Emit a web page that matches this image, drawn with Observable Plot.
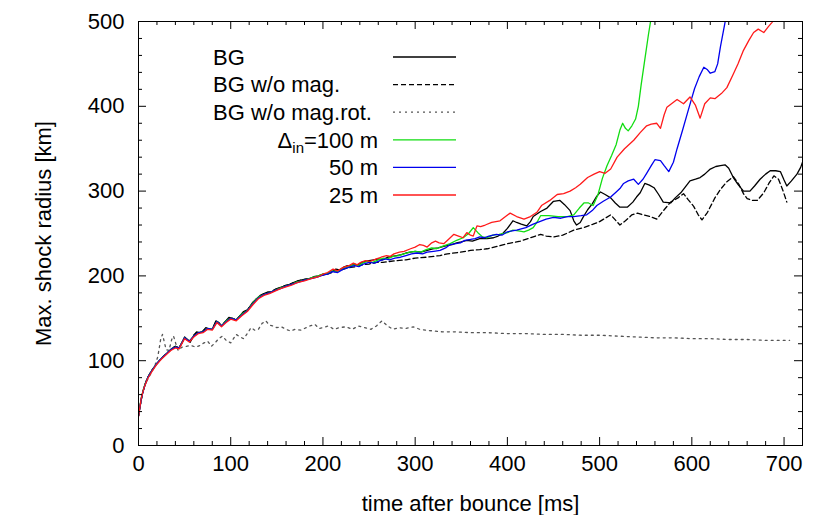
<!DOCTYPE html>
<html><head><meta charset="utf-8">
<script src="https://cdn.jsdelivr.net/npm/d3@7"></script>
<script src="https://cdn.jsdelivr.net/npm/@observablehq/plot@0.6"></script>
<style>body{margin:0;background:#fff}#chart{width:830px;height:515px}</style>
</head><body><div id="chart"></div>
<script>
// ---- data: [time after bounce (ms), max. shock radius (km)] ----
const bg = [[0,35],[2,48],[4,60],[6,68],[8,75],[10,80],[13,86],[16,91],[19,95],[22,99],[26,104],[30,108],[34,112],[37,115],[40,117],[44,115],[47,121],[50,128],[53,125],[56,122],[60,130],[63,134],[66,133],[69,134],[73,139],[77,137],[80,137],[84,147],[87,145],[90,141],[94,146],[98,151],[102,150],[106,148],[110,153],[114,158],[118,160],[121,164],[124,169],[128,173],[132,177],[136,179],[140,181],[144,181],[148,184],[152,186],[156,187],[160,189],[164,190],[168,192],[172,194],[176,195],[180,196],[186,197],[190,199],[195,200],[200,202],[205,203],[210,205],[214,208],[218,207],[222,210],[226,212],[230,212],[234,214],[238,213],[242,216],[246,217],[250,218],[255,219],[260,220],[265,219],[270,222],[275,223],[280,224],[285,225],[290,227],[295,228],[300,229],[306,228],[313,230],[319,232],[325,233],[332,235],[340,237],[345,239],[350,240],[356,242],[362,241],[370,244],[378,244],[385,245],[390,247],[395,250],[400,256],[406,265],[410,263],[415,261],[421,259],[425,264],[428,270],[436,276],[443,280],[450,288],[457,289],[462,284],[468,277],[472,265],[475,260],[479,263],[482,269],[487,278],[492,285],[497,294],[501,299],[506,296],[512,292],[517,286],[522,281],[530,281],[536,287],[540,293],[544,298],[549,309],[554,307],[559,304],[564,296],[569,287],[577,286],[582,292],[588,298],[593,305],[598,312],[604,314],[609,316],[614,320],[620,326],[626,329],[631,330],[636,331],[640,327],[645,316],[650,308],[656,300],[663,300],[668,306],[674,314],[680,320],[685,324],[691,324],[696,323],[700,313],[703,306],[708,312],[714,320],[718,328],[720,334]];

const bgNoMag = [[0,35],[2,48],[4,60],[6,68],[8,75],[10,80],[13,86],[16,91],[19,95],[22,99],[26,104],[30,108],[34,112],[37,115],[40,117],[44,115],[47,121],[50,127],[53,125],[56,122],[60,130],[63,133],[66,133],[69,134],[73,138],[77,137],[80,137],[84,146],[87,145],[90,141],[94,146],[98,150],[102,150],[106,148],[110,153],[114,157],[118,160],[121,164],[124,168],[128,173],[132,176],[136,179],[140,180],[144,181],[148,184],[152,185],[156,187],[160,189],[164,190],[168,192],[172,193],[176,195],[180,196],[186,197],[190,198],[195,200],[200,201],[205,202],[210,204],[215,206],[220,207],[225,209],[230,210],[236,211],[242,213],[250,214],[258,216],[265,216],[272,217],[280,218],[290,219],[300,221],[312,222],[327,224],[335,226],[349,228],[360,230],[370,231],[378,232],[390,235],[400,238],[414,241],[425,245],[436,249],[442,247],[450,246],[460,248],[472,254],[483,257],[493,261],[500,264],[506,268],[512,272],[517,266],[522,260],[528,265],[535,272],[541,274],[547,272],[555,270],[562,267],[570,278],[577,287],[585,292],[591,297],[596,290],[602,282],[607,272],[611,266],[617,275],[625,292],[631,302],[638,311],[645,317],[651,308],[656,297],[660,291],[666,289],[671,289],[678,298],[684,310],[689,318],[694,314],[699,300],[703,287]];

const bgNoMagRot = [[0,35],[3,55],[6,68],[9,76],[12,82],[15,88],[18,95],[21,105],[24,125],[26,131],[28,122],[30,113],[33,112],[36,125],[38,129],[41,118],[43,112],[47,116],[52,117],[57,118],[62,116],[67,118],[71,121],[75,123],[79,117],[83,121],[87,126],[91,129],[95,124],[100,121],[106,131],[110,128],[114,126],[118,132],[122,139],[126,136],[130,137],[134,144],[138,147],[142,142],[146,141],[150,139],[155,140],[160,137],[165,135],[170,137],[176,136],[182,139],[186,141],[191,143],[196,138],[200,139],[206,141],[212,137],[218,139],[225,140],[232,137],[238,141],[245,139],[252,137],[258,141],[264,147],[270,141],[276,137],[282,139],[290,138],[298,140],[305,137],[312,136],[320,135],[330,134],[345,134],[360,133],[380,133],[400,132],[420,132],[440,131],[460,131],[480,130],[500,130],[520,129],[540,128],[560,127],[580,127],[600,126],[620,126],[640,125],[660,125],[680,124],[700,124],[706,124]];

const d100 = [[0,36],[3,56],[6,69],[10,80],[15,89],[20,97],[25,103],[30,108],[35,113],[40,116],[44,115],[50,127],[55,123],[60,129],[65,133],[70,134],[75,138],[80,137],[85,146],[90,141],[95,147],[100,150],[106,148],[112,155],[118,159],[124,168],[130,175],[136,178],[142,180],[148,183],[154,186],[160,188],[166,190],[172,193],[180,195],[188,198],[195,200],[200,202],[205,203],[210,206],[215,205],[222,209],[228,211],[233,213],[238,212],[243,215],[248,217],[254,216],[260,219],[266,221],[270,220],[276,223],[282,224],[288,226],[294,228],[300,229],[306,228],[312,231],[318,233],[323,232],[330,235],[338,238],[345,242],[352,245],[358,250],[363,257],[368,251],[373,246],[378,245],[384,248],[391,249],[400,251],[406,254],[412,253],[418,252],[423,254],[428,257],[433,265],[436,271],[445,271],[455,270],[465,270],[472,272],[478,280],[483,286],[488,286],[493,283],[498,295],[503,315],[508,330],[513,342],[518,355],[522,372],[525,380],[528,374],[531,371],[535,377],[539,385],[542,400],[545,425],[549,455],[553,485],[556,505]];

const d50 = [[0,35],[3,55],[6,68],[10,80],[15,89],[20,97],[25,103],[30,108],[35,113],[40,116],[44,115],[50,127],[55,123],[60,129],[65,133],[70,134],[75,138],[80,137],[85,146],[90,141],[95,146],[100,150],[106,148],[112,154],[118,159],[124,167],[130,174],[136,178],[142,180],[148,183],[154,185],[160,188],[166,190],[172,192],[180,195],[188,197],[195,199],[200,201],[205,202],[210,205],[216,204],[222,208],[228,210],[234,212],[239,211],[244,214],[250,216],[256,215],[262,218],[268,220],[272,219],[278,221],[284,222],[290,224],[296,226],[302,227],[308,226],[313,228],[320,229],[327,230],[333,233],[338,237],[344,238],[349,239],[354,242],[360,243],[365,244],[370,246],[375,245],[380,247],[388,249],[394,248],[400,252],[410,254],[420,257],[428,261],[435,264],[442,267],[450,269],[458,268],[465,270],[472,270],[480,271],[486,272],[492,277],[497,283],[504,288],[512,293],[518,299],[522,303],[526,309],[531,312],[537,314],[542,308],[547,314],[551,321],[556,330],[560,337],[566,336],[570,330],[575,323],[580,334],[584,350],[590,372],[595,391],[600,410],[603,421],[608,435],[613,446],[617,443],[620,439],[625,441],[628,450],[631,470],[636,499],[638,512]];

const d25 = [[0,34],[3,56],[6,68],[10,79],[15,88],[20,96],[25,102],[30,107],[35,112],[40,115],[44,114],[50,126],[55,122],[60,128],[65,132],[70,133],[75,137],[80,136],[85,145],[90,140],[95,145],[100,149],[106,147],[112,153],[118,158],[124,166],[130,173],[136,177],[142,179],[148,182],[154,185],[160,187],[166,189],[172,192],[180,194],[188,197],[195,199],[200,202],[205,204],[211,208],[216,206],[222,210],[228,212],[233,215],[237,213],[241,216],[246,218],[251,217],[258,220],[263,222],[269,224],[273,223],[277,226],[283,228],[288,229],[295,232],[300,234],[305,237],[309,236],[313,234],[318,239],[322,241],[326,239],[331,238],[336,243],[342,249],[347,247],[352,245],[356,251],[360,248],[363,247],[367,259],[371,258],[376,260],[383,263],[392,265],[398,270],[403,274],[410,270],[418,267],[425,270],[432,275],[437,283],[446,289],[454,296],[461,297],[468,300],[474,304],[479,308],[487,316],[494,320],[500,323],[506,321],[512,326],[519,340],[527,350],[537,360],[544,369],[551,377],[556,379],[562,380],[566,374],[570,390],[573,399],[579,404],[584,408],[591,403],[598,411],[604,401],[609,386],[614,403],[620,410],[625,409],[632,415],[638,422],[645,438],[650,450],[656,466],[662,478],[667,487],[672,491],[678,487],[683,494],[687,499],[690,505]];

const seriesNames = ["BG", "BG w/o mag.", "BG w/o mag.rot.", "Δin=100 m", "50 m", "25 m"];
const seriesData = [bg, bgNoMag, bgNoMagRot, d100, d50, d25];
const xTicks = [0, 100, 200, 300, 400, 500, 600, 700];
const yTicks = [0, 100, 200, 300, 400, 500];
const xLabel = "time after bounce [ms]";
const yLabel = "Max. shock radius [km]";

// ---- styles ----
const colors = ["#000000", "#000000", "#555555", "#11dd11", "#0000ee", "#ff1a1a"];
const dashes = [null, "5,3", "2,4", null, null, null];
const W = 830, H = 515, mL = 138, mR = 28, mT = 21, mB = 70;
const innerW = W - mL - mR, innerH = H - mT - mB;
const xMax = 720, yMax = 500;
const font = "'Liberation Sans', Arial, Helvetica, sans-serif";
const xMinor = d3.range(0, 721, 20).filter(v => v % 100 !== 0);
const yMinor = d3.range(0, 501, 20).filter(v => v % 100 !== 0);

const rows = seriesData.flatMap((arr, i) => arr.map(([t, r]) => ({t, r, s: seriesNames[i]})));

const lineMarks = seriesNames.map((name, i) =>
  Plot.line(rows.filter(d => d.s === name), {
    x: "t", y: "r", stroke: colors[i], strokeWidth: 1.3,
    strokeDasharray: dashes[i] ?? undefined, clip: true
  })
);

// tick lengths (pixels) expressed in data units for the rule marks
const kx = (px) => px * xMax / innerW;
const ky = (px) => px * yMax / innerH;
const tickMarks = [];
for (const [vals, len] of [[xTicks, 8], [xMinor, 4]]) {
  tickMarks.push(Plot.ruleX(vals, {x: d => d, y1: 0, y2: ky(len), stroke: "black", strokeWidth: 1}));
  tickMarks.push(Plot.ruleX(vals, {x: d => d, y1: yMax - ky(len), y2: yMax, stroke: "black", strokeWidth: 1}));
}
for (const [vals, len] of [[yTicks, 8], [yMinor, 4]]) {
  tickMarks.push(Plot.ruleY(vals, {y: d => d, x1: 0, x2: kx(len), stroke: "black", strokeWidth: 1}));
  tickMarks.push(Plot.ruleY(vals, {y: d => d, x1: xMax - kx(len), x2: xMax, stroke: "black", strokeWidth: 1}));
}

const plot = Plot.plot({
  width: W, height: H,
  marginLeft: mL, marginRight: mR, marginTop: mT, marginBottom: mB,
  style: {fontFamily: font, fontSize: "22px", color: "black", background: "white"},
  x: {domain: [0, xMax]},
  y: {domain: [0, yMax]},
  marks: [
    ...lineMarks,
    ...tickMarks,
    Plot.frame({stroke: "black", strokeWidth: 1}),
    Plot.axisX(xTicks, {tickSize: 0, tickPadding: 10, fontSize: 22, label: xLabel,
      labelAnchor: "center", labelArrow: "none", labelOffset: 65}),
    Plot.axisY(yTicks, {tickSize: 0, tickPadding: 14, fontSize: 22, label: yLabel,
      labelAnchor: "center", labelArrow: "none", labelOffset: 103})
  ]
});
document.getElementById("chart").appendChild(plot);

// ---- key (inside the frame, top-left) ----
const svg = d3.select(plot);
const key = svg.append("g").attr("font-family", font).attr("font-size", 22).attr("fill", "black");
const rowY0 = 57, rowStep = 27.6, textLeft = 213, textRight = 378, sampleX1 = 393, sampleX2 = 456;
seriesNames.forEach((name, i) => {
  const y = rowY0 + i * rowStep;
  const leftAligned = i < 3;
  const t = key.append("text")
    .attr("x", leftAligned ? textLeft : textRight)
    .attr("y", y).attr("dy", "0.35em")
    .attr("text-anchor", leftAligned ? "start" : "end");
  if (name.startsWith("Δin")) {
    t.append("tspan").text("Δ");
    t.append("tspan").attr("font-size", 15).attr("dy", 5).text("in");
    t.append("tspan").attr("dy", -5).text(name.slice(3));
  } else {
    t.text(name);
  }
  key.append("line")
    .attr("x1", sampleX1).attr("x2", sampleX2).attr("y1", y).attr("y2", y)
    .attr("stroke", colors[i]).attr("stroke-width", 1.3)
    .attr("stroke-dasharray", dashes[i]);
});
</script>
</body></html>
